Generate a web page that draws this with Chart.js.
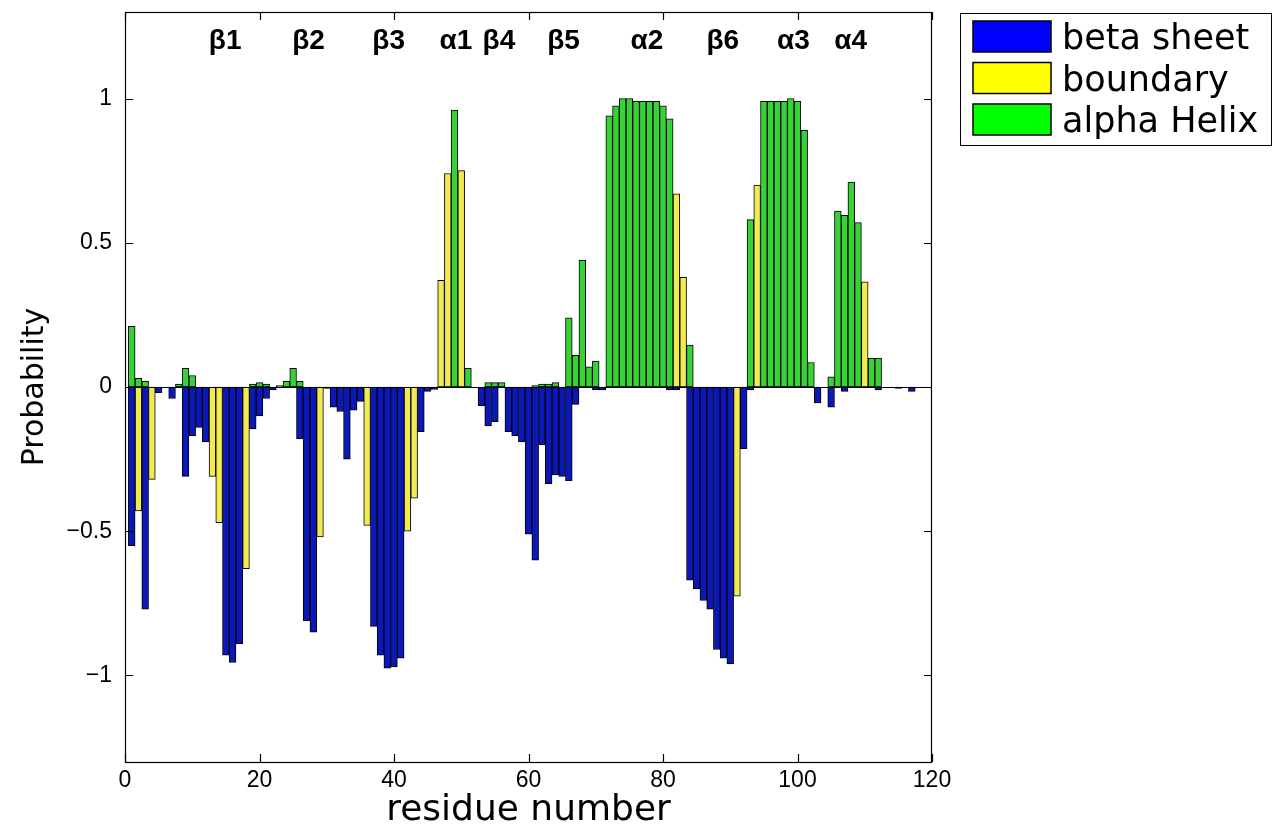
<!DOCTYPE html>
<html>
<head>
<meta charset="utf-8">
<script src="https://cdn.jsdelivr.net/npm/chart.js@4.4.1/dist/chart.umd.min.js"></script>
<style>
  html, body { margin: 0; padding: 0; background: #fff; }
  #wrap { width: 1272px; height: 830px; }
</style>
</head>
<body>
<div id="wrap"><canvas id="canvas"></canvas></div>
<script>

// probabilities per residue (index 0 = residue 1), null = no bar
const helix = [0.21,0.03,0.02,null,null,null,null,0.01,0.065,0.04,
	null,null,null,null,null,null,null,null,0.01,0.015,
	0.01,null,0.005,0.02,0.065,0.02,null,null,null,null,
	null,null,null,null,null,null,null,null,null,null,
	null,null,null,null,null,null,null,null,0.96,null,
	0.065,null,null,0.015,0.015,0.015,null,null,null,null,
	0.005,0.01,0.01,0.015,null,0.24,0.11,0.44,0.07,0.09,
	null,0.94,0.975,1.0,1.0,0.99,0.99,0.99,0.99,0.975,
	0.93,null,null,0.145,null,null,null,null,null,null,
	null,null,0.58,null,0.99,0.99,0.99,0.99,1.0,0.99,
	0.89,0.085,null,null,0.035,0.61,0.595,0.71,0.57,null,
	0.10,0.10,null,null,null,null,null];

const boundary = [null,-0.43,null,-0.32,null,null,null,null,null,null,
	null,null,-0.31,-0.47,null,null,null,-0.63,null,null,
	null,null,null,null,null,null,null,null,-0.52,null,
	null,null,null,null,null,-0.48,null,null,null,null,
	null,-0.50,-0.385,null,null,null,0.37,0.74,null,0.75,
	null,null,null,null,null,null,null,null,null,null,
	null,null,null,null,null,null,null,null,null,null,
	null,null,null,null,null,null,null,null,null,null,
	null,0.67,0.38,null,null,null,null,null,null,null,
	-0.725,null,null,0.70,null,null,null,null,null,null,
	null,null,null,null,null,null,null,null,null,0.365,
	null,null,null,null,null,null,null];

const beta = [-0.55,null,-0.77,null,-0.02,null,-0.04,null,-0.31,-0.17,
	-0.14,-0.19,null,null,-0.93,-0.955,-0.89,null,-0.145,-0.10,
	-0.04,-0.01,null,null,null,-0.18,-0.81,-0.85,null,-0.005,
	-0.07,-0.085,-0.25,-0.08,-0.05,null,-0.83,-0.93,-0.975,-0.97,
	-0.94,null,null,-0.155,-0.015,-0.008,null,null,null,null,
	null,null,-0.065,-0.135,-0.12,null,-0.155,-0.17,-0.19,-0.51,
	-0.60,-0.20,-0.335,-0.305,-0.31,-0.325,-0.06,null,null,-0.01,
	-0.01,null,null,null,null,null,null,null,null,null,
	-0.01,-0.01,null,-0.67,-0.70,-0.74,-0.77,-0.91,-0.94,-0.96,
	null,-0.215,-0.01,null,null,null,null,null,null,null,
	null,null,-0.055,null,-0.07,null,-0.015,null,null,null,
	null,-0.01,null,null,-0.005,null,-0.015];

const seriesNames = ['beta sheet', 'boundary', 'alpha Helix'];

// secondary structure labels along the top, at residue positions
const ssLabels = ['β1','β2','β3','α1','β4','β5','α2','β6','α3','α4'];
const ssResidue = [14.9, 27.3, 39.2, 49.2, 55.6, 65.2, 77.6, 88.9, 99.4, 107.9];

const xTicks = [0, 20, 40, 60, 80, 100, 120];
const yTicks = [-1, -0.5, 0, 0.5, 1];

function points(arr) {
	return arr.map(function (v, i) { return { x: i + 1, y: v }; });
}

const sans = "'Liberation Sans', Arial, Helvetica, sans-serif";
const wide = "'DejaVu Sans', 'Liberation Sans', sans-serif";

var framePlugin = {
	id: 'frame',
	afterDatasetsDraw: function (chart) {
		var ctx = chart.ctx, a = chart.chartArea;
		var xs = chart.scales.x, ys = chart.scales.y;
		ctx.save();
		ctx.strokeStyle = '#000';
		ctx.lineWidth = 1.2;

		// baseline at 0
		var y0 = Math.round(ys.getPixelForValue(0)) + 0.5;
		ctx.beginPath();
		ctx.moveTo(a.left, y0); ctx.lineTo(a.right, y0);
		ctx.stroke();

		// box
		ctx.strokeRect(a.left + 0.5, a.top + 0.5, a.right - a.left - 1, a.bottom - a.top);

		// inner tick marks on all four sides
		var tl = 8;
		ctx.beginPath();
		xTicks.forEach(function (v) {
			var px = Math.round(xs.getPixelForValue(v)) + 0.5;
			ctx.moveTo(px, a.bottom); ctx.lineTo(px, a.bottom - tl);
			ctx.moveTo(px, a.top); ctx.lineTo(px, a.top + tl);
		});
		yTicks.forEach(function (v) {
			var py = Math.round(ys.getPixelForValue(v)) + 0.5;
			ctx.moveTo(a.left, py); ctx.lineTo(a.left + tl, py);
			ctx.moveTo(a.right, py); ctx.lineTo(a.right - tl, py);
		});
		ctx.stroke();

		// structure labels
		ctx.fillStyle = '#000';
		ctx.font = 'bold 28px ' + sans;
		ctx.textAlign = 'center';
		ctx.textBaseline = 'middle';
		ssLabels.forEach(function (t, i) {
			ctx.fillText(t, xs.getPixelForValue(ssResidue[i]), 41);
		});

		// axis titles
		ctx.font = '36px ' + wide;
		ctx.textBaseline = 'alphabetic';
		ctx.fillText('residue number', (a.left + a.right) / 2, 820);
		ctx.save();
		ctx.translate(43, (a.top + a.bottom) / 2);
		ctx.rotate(-Math.PI / 2);
		ctx.font = '30px ' + wide;
		ctx.fillText('Probability', 0, 0);
		ctx.restore();

		// legend
		var lx = 960, ly = 13, lw = 311, lh = 132;
		ctx.lineWidth = 1;
		ctx.strokeRect(lx + 0.5, ly + 0.5, lw, lh);
		ctx.font = '35px ' + wide;
		ctx.textAlign = 'left';
		chart.data.datasets.forEach(function (ds, i) {
			var sy = 21 + i * 41.5;
			ctx.fillStyle = ds.swatch;
			ctx.fillRect(973, sy, 78, 31);
			ctx.strokeStyle = '#000';
			ctx.lineWidth = 1.5;
			ctx.strokeRect(973, sy, 78, 31);
			ctx.fillStyle = '#000';
			ctx.fillText(ds.label, 1062, sy + 28);
		});
		ctx.restore();
	}
};

var barStyle = { borderColor: '#000', borderWidth: 1, borderSkipped: false,
	barPercentage: 1, categoryPercentage: 1 };

var chart_config = {
	type: 'bar',
	data: {
		datasets: [
			Object.assign({ label: seriesNames[0], data: points(beta),
				backgroundColor: '#0b18b8', swatch: '#0000ff' }, barStyle),
			Object.assign({ label: seriesNames[1], data: points(boundary),
				backgroundColor: '#f2ea55', swatch: '#ffff00' }, barStyle),
			Object.assign({ label: seriesNames[2], data: points(helix),
				backgroundColor: '#36d236', swatch: '#00ff00' }, barStyle)
		]
	},
	options: {
		responsive: true,
		maintainAspectRatio: false,
		animation: false,
		layout: { padding: { left: 0, right: 340, top: 12, bottom: 0 } },
		plugins: { legend: { display: false }, tooltip: { enabled: false } },
		scales: {
			x: {
				type: 'linear', min: 0, max: 120, stacked: true, offset: false,
				grid: { display: false, drawTicks: false }, border: { display: false },
				afterBuildTicks: function (s) { s.ticks = xTicks.map(function (v) { return { value: v }; }); },
				afterFit: function (s) { s.height = 68; s.paddingLeft = 0; s.paddingRight = 0; },
				ticks: { color: '#000', padding: 5, maxRotation: 0, font: { family: sans, size: 23 } }
			},
			y: {
				min: -1.3, max: 1.3, stacked: true,
				grid: { display: false, drawTicks: false }, border: { display: false },
				afterBuildTicks: function (s) { s.ticks = yTicks.map(function (v) { return { value: v }; }); },
				afterFit: function (s) { s.width = 125; s.paddingTop = 0; s.paddingBottom = 0; },
				ticks: {
					color: '#000', padding: 13, font: { family: sans, size: 23 },
					callback: function (v) { return v < 0 ? '\u2212' + Math.abs(v) : String(v); }
				}
			}
		}
	},
	plugins: [framePlugin]
};

var ctx = document.getElementById('canvas').getContext('2d');
window.myBars = new Chart(ctx, chart_config);
</script>
</body>
</html>
